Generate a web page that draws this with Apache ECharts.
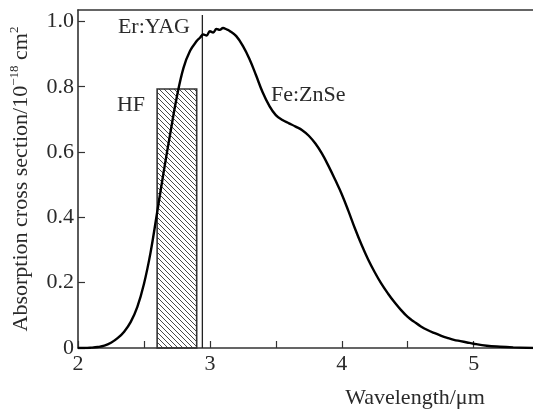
<!DOCTYPE html>
<html>
<head>
<meta charset="utf-8">
<script src="https://cdn.jsdelivr.net/npm/echarts@6/dist/echarts.min.js"></script>
<style>html,body{margin:0;padding:0;background:#fff;}#c{width:533px;height:412px;}</style>
</head>
<body>
<div id="c"></div>
<script>
// Fe:ZnSe absorption spectrum (wavelength in um, cross section in 1e-18 cm^2)
var wavelength = [2.00,2.05,2.10,2.15,2.20,2.25,2.30,2.35,2.40,2.45,2.50,2.55,2.60,2.65,2.70,2.75,2.80,2.85,2.90,2.925,2.95,2.975,3.00,3.025,3.05,3.075,3.10,3.125,3.15,3.20,3.25,3.30,3.35,3.40,3.45,3.50,3.55,3.60,3.65,3.70,3.75,3.80,3.85,3.90,3.95,4.00,4.05,4.10,4.15,4.20,4.25,4.30,4.35,4.40,4.45,4.50,4.55,4.60,4.65,4.70,4.75,4.80,4.85,4.90,4.95,5.00,5.10,5.20,5.30,5.45];
var crossSection = [0.000,0.000,0.001,0.003,0.007,0.016,0.030,0.050,0.080,0.126,0.196,0.292,0.415,0.540,0.658,0.770,0.858,0.910,0.940,0.950,0.960,0.957,0.970,0.966,0.977,0.974,0.980,0.976,0.971,0.955,0.925,0.885,0.835,0.783,0.742,0.713,0.698,0.688,0.678,0.667,0.650,0.626,0.595,0.557,0.515,0.471,0.420,0.366,0.316,0.271,0.232,0.197,0.167,0.140,0.116,0.095,0.080,0.066,0.055,0.046,0.038,0.031,0.025,0.021,0.017,0.013,0.007,0.004,0.002,0.000];
// HF laser band [start, end, height]
var hfBand = [2.6, 2.9, 0.793];
// Er:YAG laser line [wavelength, top]
var erYagLine = [2.943, 1.02];
var xTicks = [2, 3, 4, 5];
var yTicks = ['0', '0.2', '0.4', '0.6', '0.8', '1.0'];
var annotations = ['Er:YAG', 'HF', 'Fe:ZnSe'];
var xName = 'Wavelength/\u03bcm';

var FONT = 'Liberation Serif';
var AX = '#333';
var TXT = '#2a2a2a';

var pat = document.createElement('canvas');
pat.width = 5; pat.height = 5;
var pc = pat.getContext('2d');
pc.strokeStyle = '#333'; pc.lineWidth = 0.9;
pc.beginPath();
pc.moveTo(-1, -1); pc.lineTo(6, 6);
pc.moveTo(-1, 4); pc.lineTo(1, 6);
pc.moveTo(4, -1); pc.lineTo(6, 1);
pc.stroke();

var chart = echarts.init(document.getElementById('c'), null, {renderer: 'canvas'});
var curve = wavelength.map(function (w, i) { return [w, crossSection[i]]; });

chart.setOption({
  animation: false,
  backgroundColor: '#fff',
  grid: {left: 73, right: 0, top: 10, bottom: 64},
  xAxis: [{
    type: 'value', min: 2, max: 5.45, interval: 0.5,
    axisLine: {show: true, lineStyle: {color: AX, width: 1.6}},
    axisTick: {show: true, inside: true, length: 7, lineStyle: {color: AX, width: 1.2}},
    splitLine: {show: false},
    axisLabel: {
      margin: 5, color: TXT, fontFamily: FONT, fontSize: 22, showMaxLabel: false,
      formatter: function (v) { return xTicks.indexOf(v) >= 0 ? String(v) : ''; }
    }
  }, {
    type: 'value', position: 'top', min: 2, max: 5.45,
    axisLine: {show: true, lineStyle: {color: AX, width: 1.6}},
    axisTick: {show: false}, axisLabel: {show: false}, splitLine: {show: false}
  }],
  yAxis: {
    type: 'value', min: 0, max: 1.035, interval: 0.2,
    axisLine: {show: true, lineStyle: {color: AX, width: 1.6}},
    axisTick: {show: true, inside: true, length: 7, lineStyle: {color: AX, width: 1.2}},
    splitLine: {show: false},
    axisLabel: {
      margin: 4, color: TXT, fontFamily: FONT, fontSize: 22, showMaxLabel: false,
      formatter: function (v) { var i = Math.round(v / 0.2); return yTicks[i] || ''; }
    },
    name: '{a|Absorption cross section/10}{s|\u221218}{a| cm}{s|2}',
    nameLocation: 'middle', nameGap: 44, nameRotate: 90,
    nameTextStyle: {
      color: TXT, fontFamily: FONT, fontSize: 22,
      rich: {
        a: {fontFamily: FONT, fontSize: 22, color: TXT, lineHeight: 26},
        s: {fontFamily: FONT, fontSize: 13, color: TXT, verticalAlign: 'top', lineHeight: 26, padding: [0, 0, 6, 0]}
      }
    }
  },
  graphic: [
    {type: 'text', x: 190, y: 27, style: {text: annotations[0], fill: TXT, font: '22px "Liberation Serif"', textAlign: 'right', textVerticalAlign: 'middle'}},
    {type: 'text', x: 145, y: 105, style: {text: annotations[1], fill: TXT, font: '22px "Liberation Serif"', textAlign: 'right', textVerticalAlign: 'middle'}},
    {type: 'text', x: 271, y: 95, style: {text: annotations[2], fill: TXT, font: '22px "Liberation Serif"', textAlign: 'left', textVerticalAlign: 'middle'}},
    {type: 'text', x: 415, y: 398, style: {text: xName, fill: TXT, font: '22px "Liberation Serif"', textAlign: 'center', textVerticalAlign: 'middle'}}
  ],
  series: [{
    type: 'custom',
    renderItem: function (params, api) {
      var p0 = api.coord([api.value(0), api.value(2)]);
      var p1 = api.coord([api.value(1), 0]);
      return {
        type: 'rect',
        shape: {x: p0[0], y: p0[1], width: p1[0] - p0[0], height: p1[1] - p0[1]},
        style: {fill: {image: pat, repeat: 'repeat'}, stroke: '#333', lineWidth: 1.6}
      };
    },
    data: [hfBand], z: 2
  }, {
    type: 'line',
    data: [[erYagLine[0], 0], [erYagLine[0], erYagLine[1]]],
    symbol: 'none', lineStyle: {color: '#222', width: 1.3}, z: 3
  }, {
    type: 'line', data: curve, symbol: 'none', smooth: 0.4,
    lineStyle: {color: '#000', width: 2.4}, z: 4
  }]
});
</script>
</body>
</html>
